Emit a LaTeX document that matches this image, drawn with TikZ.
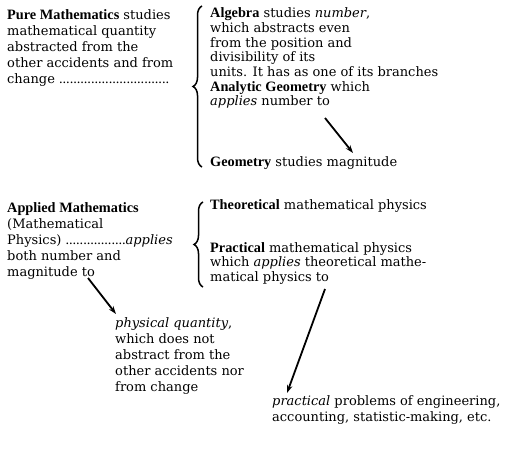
\documentclass[tikz,border=0pt]{standalone}
\usepackage{fontspec}
\setmainfont{DejaVu Serif}[BoldFont={Liberation Serif Bold},BoldFeatures={Scale=1.1}]
\usetikzlibrary{arrows.meta,decorations.pathreplacing}
\newcommand{\dotlead}[1]{\xleaders\hbox to 3.5pt{\hss.\hss}\hskip #1\relax}
\begin{document}
\begin{tikzpicture}[x=1pt,y=-1pt,
  txt/.style={anchor=north west,inner sep=0pt,align=left,font=\fontsize{13}{16}\selectfont},
  txtb/.style={txt,font=\fontsize{13}{14.7}\selectfont},
  arr/.style={line width=1.8pt,-{Stealth[length=8pt,width=5.5pt]}},
  brc/.style={line width=1.5pt,decorate,decoration={brace,amplitude=9pt}}]
\useasboundingbox (0,0) rectangle (513,454);
% left column
\node[txt] (pure) at (7,9.5) {\textbf{Pure Mathematics} studies\\mathematical quantity\\abstracted from the\\other accidents and from\\change\ \dotlead{110pt}\kern0pt};
\node[txt] (appl) at (7,202.5) {\textbf{Applied Mathematics}\\(Mathematical\\Physics)\ \dotlead{60pt}\textit{applies}\\both number and\\magnitude to};
\node[txt] (phys) at (115,317) {\textit{physical quantity},\\which does not\\abstract from the\\other accidents nor\\from change};
% right column
\node[txtb] (alg) at (210,7.5) {\textbf{Algebra} studies \textit{number},\\which abstracts even\\from the position and\\divisibility of its\\units. It has as one of its branches\\\textbf{Analytic Geometry} which\\\textit{applies} number to};
\node[txt] (geom) at (210,156) {\textbf{Geometry} studies magnitude};
\node[txt] (theo) at (210,199) {\textbf{Theoretical} mathematical physics};
\node[txtb] (prac) at (210,242) {\textbf{Practical} mathematical physics\\which \textit{applies} theoretical mathe-\\matical physics to};
\node[txt] (prob) at (272,395.5) {\textit{practical} problems of engineering,\\accounting, statistic-making, etc.};
% braces
\coordinate (b1t) at (202,6);
\coordinate (b1b) at (202,167);
\coordinate (b2t) at (203,202);
\coordinate (b2b) at (203,287);
\draw[brc] (b1b) -- (b1t);
\draw[brc] (b2b) -- (b2t);
% arrows
\coordinate (a1s) at (325,118);
\coordinate (a1e) at (353,153);
\coordinate (a2s) at (88,278);
\coordinate (a2e) at (116,314);
\coordinate (a3s) at (325,289);
\coordinate (a3e) at (287,393);
\draw[arr] (a1s) -- (a1e);
\draw[arr] (a2s) -- (a2e);
\draw[arr] (a3s) -- (a3e);
\end{tikzpicture}
\end{document}
